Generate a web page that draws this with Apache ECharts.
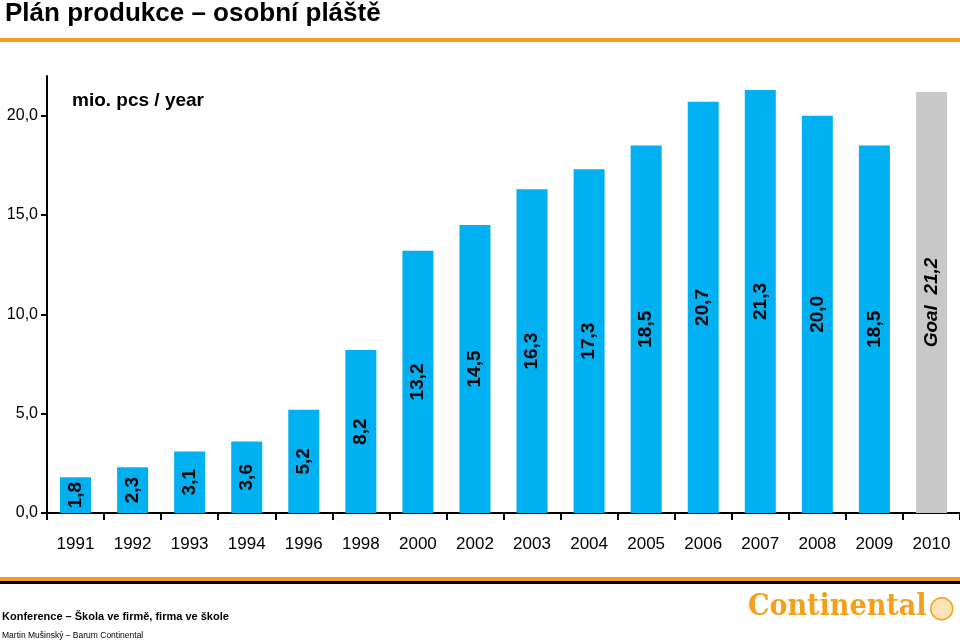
<!DOCTYPE html>
<html><head><meta charset="utf-8">
<script src="https://cdn.jsdelivr.net/npm/echarts@6/dist/echarts.min.js"></script>
<style>html,body{margin:0;padding:0;background:#fff}#c{width:960px;height:641px}</style>
</head><body><div id="c"></div>
<script>
const years = ['1991','1992','1993','1994','1996','1998','2000','2002','2003','2004','2005','2006','2007','2008','2009','2010'];
const production = [1.8,2.3,3.1,3.6,5.2,8.2,13.2,14.5,16.3,17.3,18.5,20.7,21.3,20.0,18.5,null];
const goal = [null,null,null,null,null,null,null,null,null,null,null,null,null,null,null,21.2];
const yTicks = [0,5,10,15,20];

const fmt = v => v.toFixed(1).replace('.', ',');
const chart = echarts.init(document.getElementById('c'));
chart.setOption({
  animation:false,
  backgroundColor:'#fff',
  title:{text:'Plán produkce – osobní pláště',left:0,top:-4,
    textStyle:{fontFamily:'Liberation Sans, Arial',fontWeight:'bold',fontSize:26,color:'#000'}},
  graphic:[
    {type:'rect',left:0,top:38,shape:{width:960,height:4},style:{fill:'#f39c1e'}},
    {type:'rect',left:0,top:577,shape:{width:960,height:4},style:{fill:'#f39c1e'}},
    {type:'rect',left:0,top:581,shape:{width:960,height:3},style:{fill:'#000'}},
    {type:'text',left:72,top:91,style:{text:'mio. pcs / year',font:'bold 19px "Liberation Sans", Arial',fill:'#000'}},
    {type:'text',left:2,top:611,style:{text:'Konference – Škola ve firmě, firma ve škole',font:'bold 11px "Liberation Sans", Arial',fill:'#000'}},
    {type:'text',left:2,top:631,style:{text:'Martin Mušinský – Barum Continental',font:'8.5px "Liberation Sans", Arial',fill:'#000'}},
    {type:'text',left:748,top:592,style:{text:'Continental',font:'bold 30px "DejaVu Serif Condensed", "DejaVu Serif", serif',fill:'#f5a01a'}},
    {type:'circle',left:930,top:597,shape:{r:11},style:{fill:'#fbe3b8',stroke:'#f5a01a',lineWidth:1.5}}
  ],
  grid:{left:47,right:0,top:76,bottom:128,containLabel:false},
  xAxis:{type:'category',data:years,
    axisLine:{lineStyle:{color:'#000',width:2}},
    axisTick:{show:true,alignWithLabel:false,length:7,lineStyle:{color:'#000',width:2}},
    axisLabel:{margin:23,fontSize:17,color:'#000',fontFamily:'Liberation Sans, Arial'}},
  yAxis:{type:'value',min:0,max:22,interval:5,
    axisLine:{show:true,lineStyle:{color:'#000',width:2}},
    axisTick:{show:true,length:6,customValues:yTicks,lineStyle:{color:'#000',width:2}},
    axisLabel:{customValues:yTicks,formatter:fmt,fontSize:16,color:'#000',margin:9,fontFamily:'Liberation Sans, Arial'},
    splitLine:{show:false}},
  series:[
    {type:'bar',data:production,barWidth:31,barGap:'-100%',itemStyle:{color:'#00b0f0'},
      label:{show:true,position:'inside',rotate:90,formatter:p=>fmt(p.value),
        fontSize:19,fontWeight:'bold',color:'#000',fontFamily:'Liberation Sans, Arial'}},
    {type:'bar',data:goal,barWidth:31,itemStyle:{color:'#c8c8c8'},
      label:{show:true,position:'inside',rotate:90,formatter:p=>'Goal  '+fmt(p.value),
        fontSize:19,fontWeight:'bold',fontStyle:'italic',color:'#000',fontFamily:'Liberation Sans, Arial'}}
  ]
});
</script></body></html>
